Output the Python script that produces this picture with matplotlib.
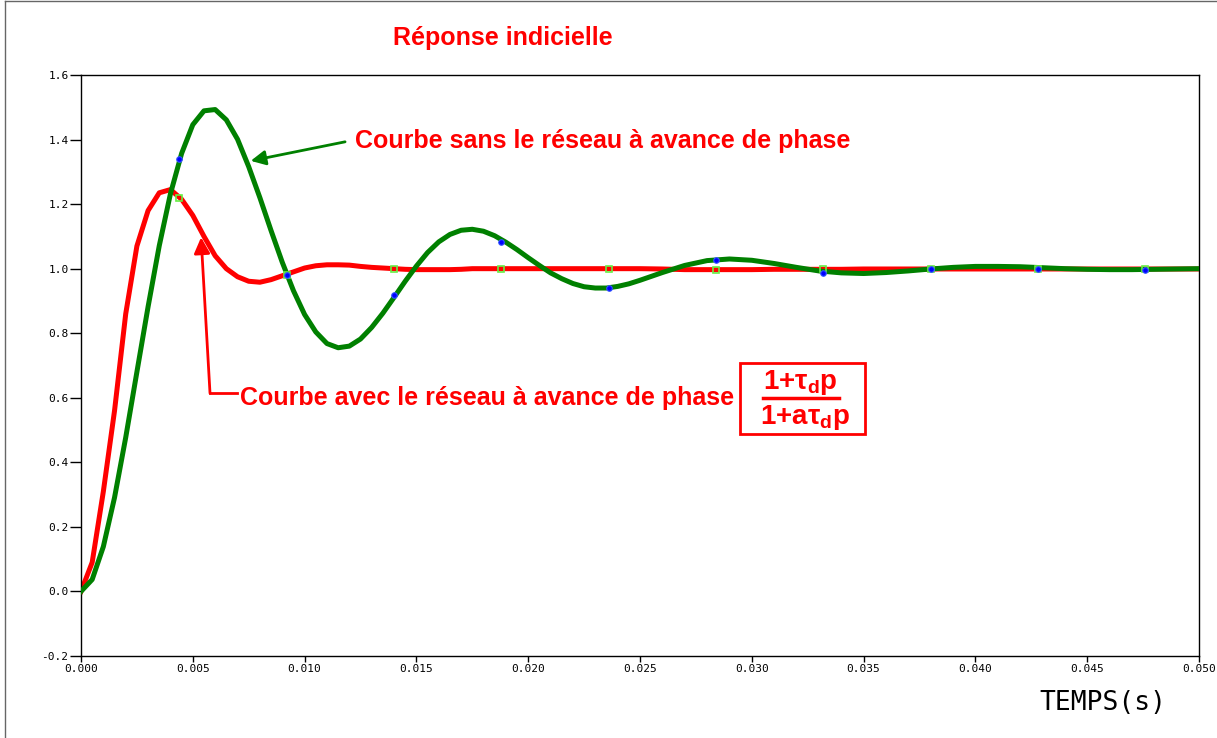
import matplotlib
matplotlib.use("Agg")
import matplotlib.pyplot as plt
from matplotlib.lines import Line2D
from matplotlib.patches import Rectangle

# time base: 0.5 ms steps up to 25 ms, then 1 ms steps
t = [0.0, 0.0005, 0.001, 0.0015, 0.002, 0.0025, 0.003, 0.0035, 0.004, 0.0045,
     0.005, 0.0055, 0.006, 0.0065, 0.007, 0.0075, 0.008, 0.0085, 0.009, 0.0095,
     0.010, 0.0105, 0.011, 0.0115, 0.012, 0.0125, 0.013, 0.0135, 0.014, 0.0145,
     0.015, 0.0155, 0.016, 0.0165, 0.017, 0.0175, 0.018, 0.0185, 0.019, 0.0195,
     0.020, 0.0205, 0.021, 0.0215, 0.022, 0.0225, 0.023, 0.0235, 0.024, 0.0245,
     0.025, 0.026, 0.027, 0.028, 0.029, 0.030, 0.031, 0.032, 0.033, 0.034,
     0.035, 0.036, 0.037, 0.038, 0.039, 0.040, 0.041, 0.042, 0.043, 0.044,
     0.045, 0.046, 0.047, 0.048, 0.049, 0.050]

# sans le reseau (green)
y_sans = [0.0, 0.037, 0.139, 0.291, 0.477, 0.680, 0.882, 1.071, 1.232, 1.357,
          1.446, 1.489, 1.493, 1.461, 1.401, 1.316, 1.220, 1.118, 1.020, 0.932,
          0.858, 0.804, 0.768, 0.755, 0.760, 0.782, 0.818, 0.862, 0.911, 0.961,
          1.008, 1.050, 1.083, 1.106, 1.119, 1.122, 1.116, 1.102, 1.082, 1.059,
          1.034, 1.010, 0.987, 0.969, 0.954, 0.944, 0.940, 0.940, 0.945, 0.953,
          0.964, 0.988, 1.010, 1.025, 1.030, 1.026, 1.016, 1.004, 0.993, 0.987,
          0.985, 0.988, 0.993, 0.999, 1.004, 1.007, 1.007, 1.006, 1.003, 1.000,
          0.998, 0.997, 0.997, 0.998, 0.999, 1.000]

# avec le reseau a avance de phase (red)
y_avec = [0.0, 0.09, 0.31, 0.56, 0.86, 1.07, 1.18, 1.235, 1.245, 1.215,
          1.165, 1.100, 1.040, 1.000, 0.975, 0.961, 0.958, 0.966, 0.978, 0.990,
          1.002, 1.009, 1.012, 1.012, 1.011, 1.007, 1.004, 1.002, 1.000, 0.998,
          0.997, 0.997, 0.997, 0.997, 0.998, 1.000, 1.000, 1.000, 1.000, 1.000,
          1.000, 1.000, 1.000, 1.000, 1.000, 1.000, 1.000, 1.000, 1.000, 1.000,
          1.000, 0.999, 0.997, 0.997, 0.997, 0.997, 0.998, 0.998, 0.998, 0.998,
          0.999, 0.999, 0.999, 0.999, 0.999, 0.999, 0.999, 0.999, 0.999, 0.999,
          0.999, 0.999, 0.999, 0.999, 0.999, 0.999]

# small point markers left on the curves
mark_t = [0.0044, 0.0092, 0.0140, 0.0188, 0.0236, 0.0284, 0.0332, 0.0380, 0.0428, 0.0476]
mark_sans = [1.34, 0.98, 0.917, 1.083, 0.941, 1.027, 0.988, 1.0, 1.0, 0.996]
mark_avec = [1.22, 0.98, 1.0, 1.0, 1.0, 0.997, 0.998, 0.999, 0.999, 0.999]

plt.rcParams['axes.unicode_minus'] = False
plt.rcParams['mathtext.fontset'] = 'custom'
plt.rcParams['mathtext.rm'] = 'Liberation Sans:bold'
plt.rcParams['mathtext.it'] = 'Liberation Sans:bold'
plt.rcParams['mathtext.bf'] = 'Liberation Sans:bold'

fig = plt.figure(figsize=(12.17, 7.38), dpi=100)
ax = fig.add_axes([81/1217, 1 - 656/738, (1199 - 81)/1217, (656 - 75)/738])

ax.plot(t, y_avec, color='#ff0000', lw=3.6, zorder=2)
ax.plot(t, y_sans, color='#008000', lw=3.6, zorder=3)
ax.plot(mark_t, mark_avec, ls='none', marker='s', ms=4.5, mfc='none',
        mec='#66ee44', mew=1.2, zorder=4)
ax.plot(mark_t, mark_sans, ls='none', marker='o', ms=4, mfc='#0000ff',
        mec='#3355ff', mew=0.8, zorder=5)

ax.set_xlim(0, 0.05)
ax.set_ylim(-0.2, 1.6)
ax.set_xticks([0.000, 0.005, 0.010, 0.015, 0.020, 0.025, 0.030, 0.035, 0.040, 0.045, 0.050])
ax.set_xticklabels(['%.3f' % v for v in ax.get_xticks()])
ax.set_yticks([-0.2, 0.0, 0.2, 0.4, 0.6, 0.8, 1.0, 1.2, 1.4, 1.6])
ax.set_yticklabels(['%.1f' % v for v in ax.get_yticks()])
for lab in ax.get_xticklabels() + ax.get_yticklabels():
    lab.set_fontfamily('DejaVu Sans Mono')
    lab.set_fontsize(8)
ax.tick_params(axis='y', direction='out', length=8, width=1, pad=1)
ax.tick_params(axis='x', direction='out', length=4, width=1, pad=2)
for s in ax.spines.values():
    s.set_linewidth(1)

fig.text(1103/1217, 1 - 703/738, 'TEMPS(s)', family='DejaVu Sans Mono',
         fontsize=19, ha='center', va='center')

fig.text(503/1217, 1 - 38/738, 'Réponse indicielle', family='Liberation Sans',
         weight='bold', fontsize=18, color='#ff0000', ha='center', va='center')

# annotation, courbe sans reseau
ax.annotate('', xy=(0.00759, 1.334), xytext=(0.01181, 1.393),
            arrowprops=dict(arrowstyle='-|>', color='#008000', lw=2,
                            mutation_scale=22, shrinkA=0, shrinkB=0))
ax.text(0.01225, 1.395, 'Courbe sans le réseau à avance de phase', family='Liberation Sans',
        weight='bold', fontsize=18, color='#ff0000', ha='left', va='center')

# annotation, courbe avec reseau
ax.add_line(Line2D([0.00698, 0.00577], [0.614, 0.614], color='#ff0000', lw=2))
ax.annotate('', xy=(0.00537, 1.097), xytext=(0.00577, 0.614),
            arrowprops=dict(arrowstyle='-|>', color='#ff0000', lw=2,
                            mutation_scale=24, shrinkA=0, shrinkB=0))
ax.text(0.0071, 0.598, 'Courbe avec le réseau à avance de phase', family='Liberation Sans',
        weight='bold', fontsize=18, color='#ff0000', ha='left', va='center')

# transfer function box
ax.add_patch(Rectangle((0.02947, 0.4867), 0.03506 - 0.02947, 0.7062 - 0.4867,
                       fc='white', ec='#ff0000', lw=2, zorder=6))
ax.add_line(Line2D([0.0305, 0.0339], [0.598, 0.598], color='#ff0000', lw=2.5, zorder=7))
ax.text(0.03216, 0.6475, r'$1{+}\tau_d p$', fontsize=20, color='#ff0000',
        ha='center', va='center', zorder=7)
ax.text(0.03238, 0.539, r'$1{+}a\tau_d p$', fontsize=20, color='#ff0000',
        ha='center', va='center', zorder=7)

# outer frame of the picture
fig.add_artist(Line2D([5/1217, 5/1217], [0, 1 - 1/738], color='#666666', lw=1))
fig.add_artist(Line2D([5/1217, 1], [1 - 1/738, 1 - 1/738], color='#666666', lw=1))

fig.savefig('out.png', dpi=100)
